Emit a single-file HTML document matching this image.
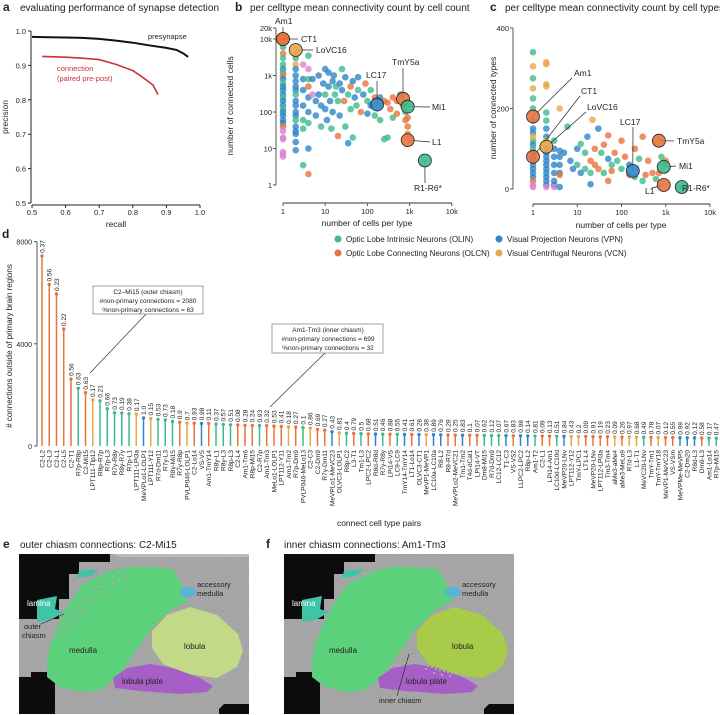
<!DOCTYPE html>
<html><head><meta charset="utf-8">
<style>
html,body{margin:0;padding:0;background:#fff;}
svg{display:block;font-family:"Liberation Sans",sans-serif;}
text{fill:#222;}
</style></head>
<body>
<svg id="fig" width="720" height="715" viewBox="0 0 720 715" xmlns="http://www.w3.org/2000/svg">
<defs>
<filter id="noise" x="0" y="0" width="100%" height="100%">
<feTurbulence type="fractalNoise" baseFrequency="0.85" numOctaves="2" seed="3"/>
<feColorMatrix type="matrix" values="0 0 0 0 0.55  0 0 0 0 0.55  0 0 0 0 0.55  0 0 0 -1.2 1.1"/>
<feComposite in2="SourceGraphic" operator="in"/>
</filter>
</defs>
<text x="3" y="11" font-size="12" font-weight="bold">a</text>
<text x="20" y="11" font-size="10">evaluating performance of synapse detection</text>
<text x="235" y="11" font-size="12" font-weight="bold">b</text>
<text x="250" y="11" font-size="10">per celltype mean connectivity count by cell count</text>
<text x="490" y="11" font-size="12" font-weight="bold">c</text>
<text x="505" y="11" font-size="10">per celltype mean connectivity count by cell types</text>
<text x="2" y="238" font-size="12" font-weight="bold">d</text>
<text x="3" y="548" font-size="12" font-weight="bold">e</text>
<text x="20" y="548" font-size="10">outer chiasm connections: C2-Mi15</text>
<text x="266" y="548" font-size="12" font-weight="bold">f</text>
<text x="284" y="548" font-size="10">inner chiasm connections: Am1-Tm3</text>

<g id="pa"></g>
<g id="pb"></g>
<g id="pc"></g>
<g id="legend">
<g><circle cx="338" cy="239" r="3.5" fill="#3dba8c"/><text x="346" y="242" font-size="8">Optic Lobe Intrinsic Neurons (OLIN)</text></g>
<g><circle cx="499" cy="239" r="3.5" fill="#2e86c8"/><text x="507" y="242" font-size="8">Visual Projection Neurons (VPN)</text></g>
<g><circle cx="338" cy="253" r="3.5" fill="#e8733f"/><text x="346" y="256" font-size="8">Optic Lobe Connecting Neurons (OLCN)</text></g>
<g><circle cx="499" cy="253" r="3.5" fill="#eaa748"/><text x="507" y="256" font-size="8">Visual Centrifugal Neurons (VCN)</text></g>
</g>
<g id="pd"></g>

<g id="pe" transform="translate(19,554)">
<rect width="230" height="160" fill="#9a9a9a"/>
<rect width="230" height="160" fill="#fff" filter="url(#noise)" opacity="0.55"/>
<path d="M0,0 H91 V8 H60 V20 H50 V45 H40 V65 H0 Z" fill="#0c0c0c"/>
<path d="M0,123 H12 V118 H36 V160 H0 Z" fill="#0c0c0c"/>
<path d="M205,150 H230 V160 H200 V155 Z" fill="#0c0c0c"/>
<path d="M95,0 H230 V3 H100 Z" fill="#bbb"/>
<path d="M18,46 L38,42 L36,55 L45,58 L32,66 L18,68 Z M60,17 L80,15 L72,22 L58,24 Z" fill="#3fc4a8"/>
<path d="M28,110 L31,90 L38,73 L48,53 L64,30 L91,17 L114,12 L154,15 L163,32 L168,48 L151,56 L131,76 L111,106 L98,123 L81,136 L64,138 L41,133 L28,123 Z" fill="#5cd17c"/>
<ellipse cx="169" cy="38" rx="8" ry="5" fill="#55b5d6"/>
<path d="M133,77 L148,61 L171,53 L198,61 L219,80 L224,97 L218,113 L198,124 L168,120 L144,110 L133,94 Z" fill="#c2d987"/>
<path d="M94,124 L108,114 L131,110 L154,114 L181,124 L194,132 L188,138 L161,140 L121,137 L96,134 Z" fill="#a75fc7"/>
<g id="edots" fill="#fff" stroke="#555" stroke-width="0.3"></g>
<text x="8" y="52" font-size="8" style="fill:#fff">lamina</text>
<text x="5" y="75" font-size="7.5">outer</text>
<text x="3" y="84" font-size="7.5">chiasm</text>
<line x1="22" y1="70" x2="45" y2="60" stroke="#222" stroke-width="0.6"/>
<text x="50" y="99" font-size="8">medulla</text>
<text x="178" y="33" font-size="7.5">accessory</text>
<text x="178" y="42" font-size="7.5">medulla</text>
<text x="165" y="95" font-size="8">lobula</text>
<text x="103" y="130" font-size="8">lobula plate</text>
</g>
<g id="pf" transform="translate(284,554)">
<rect width="230" height="160" fill="#9a9a9a"/>
<rect width="230" height="160" fill="#fff" filter="url(#noise)" opacity="0.55"/>
<path d="M0,0 H91 V8 H60 V20 H50 V45 H40 V65 H0 Z" fill="#0c0c0c"/>
<path d="M0,123 H12 V118 H36 V160 H0 Z" fill="#0c0c0c"/>
<path d="M205,150 H230 V160 H200 V155 Z" fill="#0c0c0c"/>
<path d="M18,46 L38,42 L36,55 L45,58 L32,66 L18,68 Z M60,17 L80,15 L72,22 L58,24 Z" fill="#3fc4a8"/>
<path d="M28,110 L31,90 L38,73 L48,53 L64,30 L91,17 L114,12 L154,15 L163,32 L168,48 L151,56 L131,76 L111,106 L98,123 L81,136 L64,138 L41,133 L28,123 Z" fill="#5cd17c"/>
<ellipse cx="169" cy="38" rx="8" ry="5" fill="#55b5d6"/>
<path d="M133,77 L148,61 L171,53 L198,61 L219,80 L224,97 L218,113 L198,124 L168,120 L144,110 L133,94 Z" fill="#a8cc4a"/>
<path d="M94,124 L108,114 L131,110 L154,114 L181,124 L194,132 L188,138 L161,140 L121,137 L96,134 Z" fill="#a75fc7"/>
<g id="fdots" fill="#fff" stroke="#555" stroke-width="0.3"></g>
<text x="8" y="52" font-size="8" style="fill:#fff">lamina</text>
<text x="45" y="99" font-size="8">medulla</text>
<text x="178" y="33" font-size="7.5">accessory</text>
<text x="178" y="42" font-size="7.5">medulla</text>
<text x="168" y="95" font-size="8">lobula</text>
<text x="122" y="130" font-size="8">lobula plate</text>
<text x="95" y="149" font-size="7.5">inner chiasm</text>
<line x1="113" y1="142" x2="125" y2="100" stroke="#222" stroke-width="0.6"/>
</g>
</svg>
<script>
const preRecall = [0.5,0.55,0.6,0.65,0.7,0.75,0.8,0.85,0.9,0.93,0.95,0.96,0.965];
const prePrecision = [0.983,0.982,0.981,0.98,0.977,0.972,0.966,0.958,0.951,0.945,0.935,0.928,0.925];
const conRecall = [0.53,0.6,0.65,0.7,0.75,0.8,0.83,0.86,0.875];
const conPrecision = [0.926,0.924,0.921,0.917,0.903,0.885,0.865,0.843,0.815];
const aTicks = [0.5,0.6,0.7,0.8,0.9,1.0];
const aTickLabels = ["0.5","0.6","0.7","0.8","0.9","1.0"];

const bX = [1,1,1,1,1,1,1,1,1,1,1,1,1,1,1,1,1,1,1,1,1,1,1,1,1,1,1,1,
 2,2,2,2,2,2,2,2,2,2,2,2,2,2,2,2,2,2,2,
 3,3,3,3,3,3,3,4,4,4,4,4,4,4,4,4,
 5,5,6,6,7,7,8,8,9,10,10,10,11,12,12,13,14,15,15,16,17,18,20,20,22,22,25,25,28,30,30,35,35,40,40,45,45,50,55,60,60,70,80,90,100,100,120,120,150,150,200,200,250,250,300,300,350,400,500,600,700,800,900,900,900,800,500,400];
const bY = [8000,6000,4000,3000,2000,1500,1200,1000,800,600,500,400,300,250,200,150,120,100,80,60,50,40,20,18,8,6,7,30,
 4000,3000,2000,1500,1000,700,500,400,300,200,150,100,80,60,40,30,25,15,9,
 2000,800,400,150,60,35,3.5,3500,1500,800,500,250,100,50,10,2,
 800,300,200,80,1000,300,150,40,600,1500,300,120,60,1200,500,200,35,700,100,1000,300,500,200,22,600,80,1500,400,200,900,40,300,14,500,120,700,20,250,150,900,400,100,300,600,200,90,400,150,250,80,250,60,200,18,180,20,120,70,90,300,150,100,70,40,25,60,200,250];
const bCat = "ggoggbgobgbbbgbbgbbbboppppppp"+"gybbbbbgbbbbgbbbbbp"+"bbbggggp"+"gobbgbobp"+"bbbbbgbbgbbbbbgbbbgggobbgbobggbogbgbgbgobogbgbogbgogogogogogoooooooo";
const bHiName = ["Am1","CT1","LoVC16","LC17","TmY5a","Mi1","L1","R1-R6*"];
const bHiX = [1,1,2,170,700,900,900,2300];
const bHiY = [10000,10000,5000,160,230,140,17,4.7];
const bHiCat = "ooybogog";
const bTicksX = [1,10,100,1000,10000];
const bTicksXLab = ["1","10","100","1k","10k"];
const bTicksY = [1,10,100,1000,10000,20000];
const bTicksYLab = ["1","10","100","1k","10k","20k"];

const cX = [1,1,1,1,1,1,1,1,1,1,1,1,1,1,1,1,1,1,1,1,1,1,1,
 2,2,2,2,2,2,2,2,2,2,2,2,2,2,2,2,2,2,2,2,
 3,3,3,3,3,3,3,3,4,4,4,4,4,4,4,
 6,5,7,8,10,10,12,12,15,15,17,20,20,20,22,25,25,30,30,35,40,40,50,50,50,60,60,70,80,100,100,120,150,150,200,200,250,300,300,400,500,600,800,900,1000,700,350];
const cY = [340,305,275,250,225,200,170,150,140,120,110,100,90,80,70,60,50,40,30,20,10,5,130,
 315,310,260,255,190,170,150,130,120,100,90,80,70,60,50,40,30,20,10,5,
 120,100,80,60,40,20,10,5,200,95,80,60,40,35,5,
 155,90,70,50,100,60,40,112,90,50,130,70,40,12,172,100,60,150,50,90,110,40,133,75,20,60,45,90,70,120,50,80,60,35,100,30,75,130,20,70,40,25,80,65,70,40,35];
const cCat = "gygyggbbbgbgbbgbbbboppy"+"yyyyggbbybbbbbbbbbbp"+"gbbbbbbp"+"ybbbbob"+"gbbbbgbgggbogbyoobogogobogoogogobooggogoogggoooog";
const cHiName = ["Am1","CT1","LoVC16","LC17","TmY5a","Mi1","L1","R1-R6*"];
const cHiX = [1,1,2,180,700,900,900,2300];
const cHiY = [180,80,105,45,120,55,10,5];
const cHiCat = "ooybogog";
const cTicksX = [1,10,100,1000,10000];
const cTicksXLab = ["1","10","100","1k","10k"];
const cTicksY = [0,200,400];
const cTicksYLab = ["0","200","400"];

const dNames = ["C2-L2","C2-L3","C2-L1","C2-L5","C2-T1","R7p-R8p","C2-Mi15","LPT111-Tlp12","R8p-R7p","R7p-L3","R7y-R8y","R8y-R7y","R7p-L1","LPT111-LPi3a","MeVPLo1-LOLP1","LPT111-Y12","R7d-Dm11","R7y-L3","R8y-Mi15","R7y-R8p","PVLP046-LOLP1","C2-Lo14","VS-VS","Am1-TmY14","R8y-L1","R8y-L3","R8p-L3","C2-L4","Am1-Tm6","R8p-Mi15","C2-R7p","Am1-Tm3","MeLo1-LOLP1","LPT112-Y11","Am1-Tm2","R7p-Dm9","PVLP046-MeLo13","C2-C3","C2-Dm9","R7y-Dm11","MeVPLo1-MeVC23","OLVC3-LOLP1","R8p-C2","L3-T1","Tm1-L3",
"LPC2-LPC2","R8d-R8d","R7y-R8y","LPi14-VS","LC9-LC9","TmY14-TmY14","LT1-Lo14","OLVC3-CT1","MeVP1-MeVP1","LC10a-LC10a","R8-L2","R8-R7d","MeVPLo2-MeVC21","Tm1-Tm2","T4d-dCal1","LPi14-VT","Dm8-Mi15","R7d-Dm9","LC12-LC12","T1-C3","VS-VS2","LLPC2-LPC2","R8p-L2","Am1-T2","C2-L1","LPi14-Am1","LC10d-LC10d","MeVP20-LNv","LPT112-Y12","TmY-LPC1","LT1-L4","MeVP20-LNv","LPT112-LPi3a","Tm3-Tm4","aMe3-aMe4","aMe3-MeLo9","R7d-L3","L1-T1","MeVC20-LNv","TmY-Tm1","TmY-TmY18","MeVP1-MeVC23","VS-VSm","MeVPMe-MeVP5","C2-Dm20","R8d-L3","Dm9-L3","Am1-Lo14","R7p-Mi15"];
const dValues = [7440,6320,5950,4580,2620,2260,2090,1800,1770,1460,1300,1290,1260,1250,1100,1075,1040,1020,960,930,890,890,885,880,860,840,830,820,810,800,800,795,780,770,750,740,720,700,650,620,560,510,500,490,480,
470,465,460,460,455,450,450,445,440,440,435,430,430,425,420,420,415,410,410,405,400,400,395,390,390,385,380,380,375,370,370,365,360,360,355,350,350,345,340,340,335,330,330,325,320,320,315,310,305];
const dFrac = ["0.37","0.56","0.23","0.22","0.56","0.63","0.63","0.17","0.21","0.66","0.73","0.19","0.38","0.17","1.0","0.15","0.53","0.73","0.18","0.9","0.7","0.93","0.98","0.11","0.37","0.57","0.51","0.08","0.28","0.24","0.93","0.32","0.53","0.41","0.18","0.27","0.1","0.86","0.69","0.27","0.43","0.81","0.4","0.79","0.5",
"0.68","0.51","0.46","0.88","0.55","0.41","0.61","0.28","0.38","0.89","0.76","0.28","0.25","0.83","0.1","0.07","0.62","0.12","0.07","0.67","0.83","0.98","0.14","0.81","0.09","0.13","0.51","0.84","0.43","0.2","0.09","0.91","0.19","0.23","0.09","0.26","0.97","0.68","0.49","0.78","0.07","0.12","0.55","0.99","0.92","0.12","0.58","0.17","0.47"];
const dCat = "ooooogoygggggybygggoyobogggooogoooyogyoobygog"+"obgogbobybboobooggg"+"bobbgoogbyyooooyoyygoyoobbbogg";
const dTicks = [0,4000,8000];
const dTickLabels = ["0","4000","8000"];

const COL = {g:"#3dba8c",o:"#e8733f",b:"#2e86c8",y:"#eaa748",p:"#e07fcf"};
const NS = "http://www.w3.org/2000/svg";
function mk(parent, tag, attrs, txt){
  const e = document.createElementNS(NS, tag);
  for (const k in attrs) e.setAttribute(k, attrs[k]);
  if (txt !== undefined) e.textContent = txt;
  parent.appendChild(e);
  return e;
}
const L10 = Math.log10;

(function(){
  const g = document.getElementById('pa');
  const ax = v => 32 + (v-0.5)*336;
  const ay = v => 203 - (v-0.5)*344;
  let e = mk(g,'line',{x1:31,y1:ay(1),x2:31,y2:ay(0.5),stroke:'#222','stroke-width':1});
   
  e = mk(g,'line',{x1:ax(0.5),y1:205,x2:ax(1),y2:205,stroke:'#222','stroke-width':1});
   
  aTicks.forEach((t,i)=>{
    mk(g,'line',{x1:28,y1:ay(t),x2:31,y2:ay(t),stroke:'#222'});
    e = mk(g,'text',{x:26,y:ay(t)+3,'font-size':7.5,'text-anchor':'end'},aTickLabels[i]);
     
    mk(g,'line',{x1:ax(t),y1:205,x2:ax(t),y2:208,stroke:'#222'});
    e = mk(g,'text',{x:ax(t),y:215,'font-size':7.5,'text-anchor':'middle'},aTickLabels[i]);
     
  });
  e = mk(g,'text',{x:ax(0.75),y:227,'font-size':8.5,'text-anchor':'middle'},'recall');
   
  e = mk(g,'text',{x:8,y:117,'font-size':8.5,'text-anchor':'middle',transform:'rotate(-90 8 117)'},'precision');
   
  e = mk(g,'polyline',{points:preRecall.map((r,i)=>ax(r)+','+ay(prePrecision[i])).join(' '),fill:'none',stroke:'#111','stroke-width':2});
   
  e = mk(g,'polyline',{points:conRecall.map((r,i)=>ax(r)+','+ay(conPrecision[i])).join(' '),fill:'none',stroke:'#c8323a','stroke-width':1.6});
   
  e = mk(g,'text',{x:148,y:39,'font-size':7.5},'presynapse');
   
  e = mk(g,'text',{x:57,y:71,'font-size':7.5,style:'fill:#c8323a'},'connection');
   
  e = mk(g,'text',{x:57,y:81,'font-size':7.5,style:'fill:#c8323a'},'(paired pre-post)');
   
})();

function scatter(gid, xs, ys, cats, sx, sy, name){
  const g = document.getElementById(gid);
  for (let i=0;i<xs.length;i++){
    const c = COL[cats[i]] || COL.b;
    const e = mk(g,'circle',{cx:sx(xs[i]),cy:sy(ys[i]),r:3.3,fill:c,'fill-opacity':0.8});
    
    
  }
}
function highlights(gid, names, xs, ys, cats, sx, sy, labelPos, name){
  const g = document.getElementById(gid);
  for (let i=0;i<names.length;i++){
    const px = sx(xs[i]), py = sy(ys[i]);
    const lp = labelPos[i];
    mk(g,'line',{x1:px,y1:py,x2:lp[2],y2:lp[3],stroke:'#222','stroke-width':0.7});
    const e = mk(g,'circle',{cx:px,cy:py,r:6.5,fill:COL[cats[i]],stroke:'#222','stroke-width':0.8,'fill-opacity':0.9});
    
    
    const t = mk(g,'text',{x:lp[0],y:lp[1],'font-size':8.5},names[i]);
    
    
  }
}
function axesLog(g, sx, sy, tx, txl, ty, tyl, yAxisX, xAxisY, xr, yr){
  let e = mk(g,'line',{x1:yAxisX,y1:yr[0],x2:yAxisX,y2:yr[1],stroke:'#555','stroke-width':1});
   
  e = mk(g,'line',{x1:xr[0],y1:xAxisY,x2:xr[1],y2:xAxisY,stroke:'#777','stroke-width':1.4});
   
  tx.forEach((t,i)=>{
    mk(g,'line',{x1:sx(t),y1:xAxisY,x2:sx(t),y2:xAxisY+3,stroke:'#555'});
    e = mk(g,'text',{x:sx(t),y:xAxisY+11,'font-size':7.5,'text-anchor':'middle'},txl[i]);
     
  });
  ty.forEach((t,i)=>{
    mk(g,'line',{x1:yAxisX-3,y1:sy(t),x2:yAxisX,y2:sy(t),stroke:'#555'});
    e = mk(g,'text',{x:yAxisX-4,y:sy(t)+3,'font-size':7.5,'text-anchor':'end'},tyl[i]);
     
  });
}

(function(){
  const g = document.getElementById('pb');
  const sx = v => 283 + L10(v)*42.2;
  const sy = v => 185 - L10(v)*36.5;
  axesLog(g,sx,sy,bTicksX,bTicksXLab,bTicksY,bTicksYLab,276,203,[283,452],[sy(20000),sy(1)]);
  let e = mk(g,'text',{x:367,y:226,'font-size':8.5,'text-anchor':'middle'},'number of cells per type');
   
  e = mk(g,'text',{x:233,y:106,'font-size':8.5,'text-anchor':'middle',transform:'rotate(-90 233 106)'},'number of connected cells');
   
  scatter('pb',bX,bY,bCat,sx,sy,'cell-count');
  highlights('pb',bHiName,bHiX,bHiY,bHiCat,sx,sy,
    [[275,24,283,27],[301,42,298,39],[316,53,313,50],[366,78,377,81],[392,65,403,68],[432,110,430,107],[432,145,430,142],[414,191,425,183]],'cell-count');
})();

(function(){
  const g = document.getElementById('pc');
  const sx = v => 533 + L10(v)*44.25;
  const sy = v => 189 - v*0.4025;
  axesLog(g,sx,sy,cTicksX,cTicksXLab,cTicksY,cTicksYLab,513,204,[533,710],[sy(400),sy(0)]);
  let e = mk(g,'text',{x:621,y:228,'font-size':8.5,'text-anchor':'middle'},'number of cells per type');
   
  e = mk(g,'text',{x:496,y:108,'font-size':8.5,'text-anchor':'middle',transform:'rotate(-90 496 108)'},'number of connected types');
   
  scatter('pc',cX,cY,cCat,sx,sy,'cell-types');
  highlights('pc',cHiName,cHiX,cHiY,cHiCat,sx,sy,
    [[574,76,572,78],[581,94,580,96],[587,110,586,112],[620,125,633,127],[677,144,674,141],[679,169,676,166],[645,194,652,188],[682,191,680,188]],'cell-types');
})();

(function(){
  const g = document.getElementById('pd');
  const dx = i => 42 + i*7.25;
  const dy = v => 446 - v*0.02555;
  let e = mk(g,'line',{x1:37,y1:dy(8000),x2:37,y2:dy(0),stroke:'#555'});
   
  dTicks.forEach((t,i)=>{
    mk(g,'line',{x1:34,y1:dy(t),x2:37,y2:dy(t),stroke:'#555'});
    const tl = mk(g,'text',{x:32,y:dy(t)+3,'font-size':7,'text-anchor':'end'},dTickLabels[i]);
     
  });
  e = mk(g,'text',{x:12,y:346,'font-size':8,'text-anchor':'middle',transform:'rotate(-90 12 346)'},'# connections outside of primary brain regions');
   
  e = mk(g,'text',{x:379,y:526,'font-size':8.5,'text-anchor':'middle'},'connect cell type pairs');
   
  for (let i=0;i<dValues.length;i++){
    const c = COL[dCat[i]] || COL.g;
    const x = dx(i), y = dy(dValues[i]);
    const s = mk(g,'line',{x1:x,y1:446,x2:x,y2:y,stroke:c,'stroke-width':1.5});
    
    
    const h = mk(g,'circle',{cx:x,cy:y,r:1.7,fill:c});
    
    
    const f = mk(g,'text',{x:x+2.5,y:y-3,'font-size':6.5,transform:'rotate(-90 '+(x+2.5)+' '+(y-3)+')'},dFrac[i]||'');
    
    
    const n = mk(g,'text',{x:x+2.3,y:450,'font-size':6.5,'text-anchor':'end',transform:'rotate(-90 '+(x+2.3)+' 450)'},dNames[i]||'');
    
    
  }
  mk(g,'line',{x1:147,y1:313,x2:90,y2:373,stroke:'#333','stroke-width':0.7});
  e = mk(g,'rect',{x:93,y:286,width:110,height:28,fill:'#fff',stroke:'#888','stroke-width':0.8});
   
  [['C2\u2013Mi15 (outer chiasm)',294],['#non-primary connections = 2080',303],['%non-primary connections = 63',312]].forEach(r=>{
    const t = mk(g,'text',{x:148,y:r[1],'font-size':6.5,'text-anchor':'middle'},r[0]);
     
  });
  mk(g,'line',{x1:325,y1:353,x2:270,y2:407,stroke:'#333','stroke-width':0.7});
  e = mk(g,'rect',{x:272,y:324,width:111,height:29,fill:'#fff',stroke:'#888','stroke-width':0.8});
   
  [['Am1-Tm3 (inner chiasm)',332],['#non-primary connections = 699',341],['%non-primary connections = 32',350]].forEach(r=>{
    const t = mk(g,'text',{x:328,y:r[1],'font-size':6.5,'text-anchor':'middle'},r[0]);
     
  });
})();

(function(){
  const ed = document.getElementById('edots');
  const eDots = [[36,82],[39,78],[42,73],[45,69],[48,64],[52,60],[56,55],[60,50],[64,45],[68,41],[73,37],[78,33],[83,29],[88,25],[94,22],[100,19],[106,16],[112,14],[118,12],[125,11],[131,12],[34,86],[40,84],[44,78],[47,74],[51,70],[55,65],[59,60],[63,55],[67,50],[72,46],[77,41],[82,37],[88,33],[94,29],[100,26],[106,22],[50,78],[57,68],[66,58],[75,48],[85,40],[96,32],[108,25]];
  eDots.forEach(d=>{ mk(ed,'rect',{x:d[0]-0.9,y:d[1]-0.9,width:1.8,height:1.8}); });
  const fd = document.getElementById('fdots');
  const fDots = [[112,104],[115,100],[118,103],[121,99],[124,102],[127,98],[130,101],[116,107],[120,109],[124,108],[128,106],[132,105],[136,108],[140,110],[144,112],[148,113],[152,115],[156,116],[160,117],[164,118],[168,119],[172,118],[176,120],[110,110],[107,113],[104,116],[134,101],[137,104],[122,95],[126,93],[142,115],[150,119],[158,121],[166,122],[180,123]];
  fDots.forEach(d=>{ mk(fd,'rect',{x:d[0]-0.9,y:d[1]-0.9,width:1.8,height:1.8}); });
})();
</script>
</body></html>
